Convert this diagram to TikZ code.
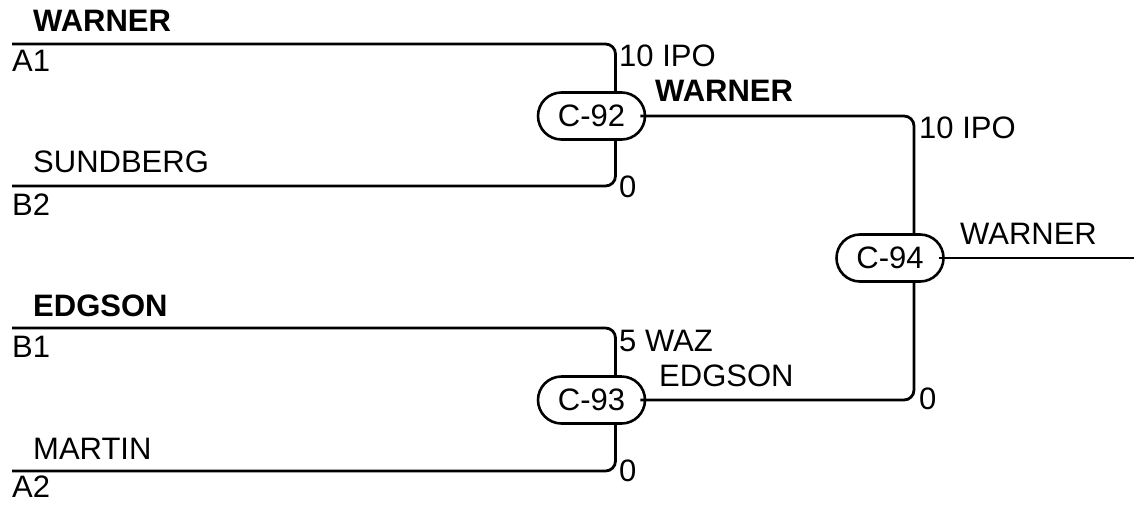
\documentclass[tikz,border=0pt]{standalone}
\usepackage{fontspec}
\setmainfont{Liberation Sans}
\usetikzlibrary{shapes.misc}
\begin{document}
\begin{tikzpicture}[x=1pt,y=-1pt,
  wire/.style={line width=2.8pt, rounded corners=10pt},
  game/.style={rounded rectangle, draw, line width=2.6pt, minimum width=107pt, minimum height=47pt, inner sep=0pt, font=\fontsize{31}{36}\selectfont},
  lbl/.style={anchor=base west, inner sep=0pt, font=\fontsize{31}{36}\selectfont},
  blbl/.style={lbl, font=\fontsize{31}{36}\selectfont\bfseries}]
\useasboundingbox (0,6) rectangle (1134,510);
\coordinate (a1) at (12,50);
\coordinate (b2) at (12,192);
\coordinate (b1) at (12,334);
\coordinate (a2) at (12,477);
\coordinate (out) at (1134,264);
\node[game] (c92) at (591.5,122) {C-92};
\node[game] (c93) at (591.5,406) {C-93};
\node[game] (c94) at (890,264) {C-94};
\draw[wire] (a1) -| ([xshift=24pt]c92.north);
\draw[wire] (b2) -| ([xshift=24pt]c92.south);
\draw[wire] (b1) -| ([xshift=24pt]c93.north);
\draw[wire] (a2) -| ([xshift=24pt]c93.south);
\draw[wire] ([xshift=-6pt]c92.east) -| ([xshift=24pt]c94.north);
\draw[wire] ([xshift=-6pt]c93.east) -| ([xshift=24pt]c94.south);
\draw[wire] ([xshift=-6pt]c94.east) -- (out);
\node[blbl] (lw1) at (33,37) {WARNER};
\node[lbl] (la1) at (12,77) {A1};
\node[lbl] (ls) at (33,178) {SUNDBERG};
\node[lbl] (lb2) at (12,221) {B2};
\node[blbl] (le1) at (33,322) {EDGSON};
\node[lbl] (lb1) at (12,363) {B1};
\node[lbl] (lm) at (33,465) {MARTIN};
\node[lbl] (la2) at (12,503) {A2};
\node[lbl] (s1) at (619,72) {10 IPO};
\node[lbl] (s2) at (619,203) {0};
\node[blbl] (w2) at (655,107) {WARNER};
\node[lbl] (s3) at (619,357) {5 WAZ};
\node[lbl] (s4) at (619,487) {0};
\node[lbl] (e2) at (659,392) {EDGSON};
\node[lbl] (s5) at (919,144) {10 IPO};
\node[lbl] (s6) at (919,415) {0};
\node[lbl] (w3) at (960,250) {WARNER};
\end{tikzpicture}
\end{document}
